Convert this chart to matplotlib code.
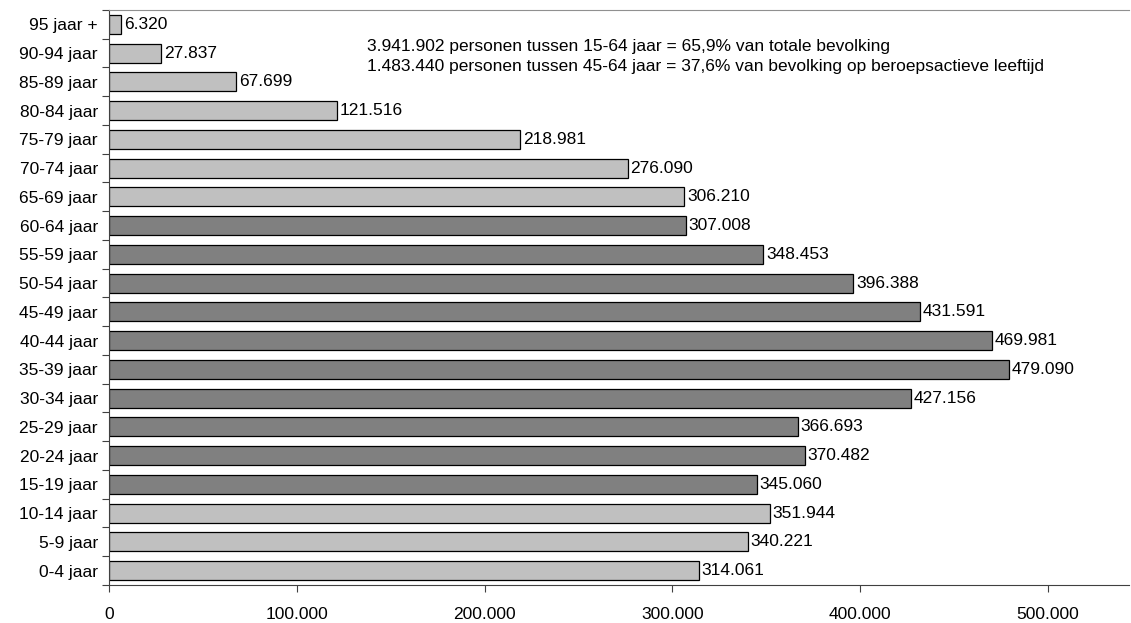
import numpy as np
import matplotlib.pyplot as plt
from matplotlib.ticker import FuncFormatter

plt.rcParams['font.family'] = ['Liberation Sans', 'DejaVu Sans']

# age groups from bottom to top
groups = ['0-4 jaar', '5-9 jaar', '10-14 jaar', '15-19 jaar', '20-24 jaar',
          '25-29 jaar', '30-34 jaar', '35-39 jaar', '40-44 jaar', '45-49 jaar',
          '50-54 jaar', '55-59 jaar', '60-64 jaar', '65-69 jaar', '70-74 jaar',
          '75-79 jaar', '80-84 jaar', '85-89 jaar', '90-94 jaar', '95 jaar +']
people = [314061, 340221, 351944, 345060, 370482, 366693, 427156, 479090,
          469981, 431591, 396388, 348453, 307008, 306210, 276090, 218981,
          121516, 67699, 27837, 6320]
# working age 15-64 gets the dark colour
working = [False, False, False] + [True] * 10 + [False] * 7

notes = ['3.941.902 personen tussen 15-64 jaar = 65,9% van totale bevolking',
         '1.483.440 personen tussen 45-64 jaar = 37,6% van bevolking op beroepsactieve leeftijd']

FS = 12.5


def dutch(v):
    return '{:,.0f}'.format(v).replace(',', '.')


fig = plt.figure(figsize=(11.31, 6.23), dpi=100)
ax = fig.add_axes([0.0964, 0.061, 0.9016, 0.923])

ypos = np.arange(len(groups))
colors = ['#808080' if w else '#c0c0c0' for w in working]
ax.barh(ypos, people, height=0.66, color=colors, edgecolor='black', linewidth=0.9)

for y, v in zip(ypos, people):
    ax.text(v + 1500, y, dutch(v), va='center', ha='left', fontsize=FS)

ax.set_xlim(0, 543000)
ax.set_ylim(-0.5, len(groups) - 0.5)

ax.set_xticks(np.arange(0, 500001, 100000))
ax.xaxis.set_major_formatter(FuncFormatter(lambda v, p: dutch(v)))
ax.tick_params(axis='x', direction='out', length=5, labelsize=FS, pad=11, color='#404040')

# Excel style: ticks between categories, labels in the middle
ax.set_yticks(np.arange(-0.5, len(groups), 1))
ax.set_yticklabels([])
ax.set_yticks(ypos, minor=True)
ax.set_yticklabels(groups, minor=True, fontsize=FS)
ax.tick_params(axis='y', which='major', direction='out', length=5, color='#404040')
ax.tick_params(axis='y', which='minor', length=0, pad=8)

ax.spines['right'].set_visible(False)
ax.spines['top'].set_color('#909090')
ax.spines['left'].set_color('#404040')
ax.spines['bottom'].set_color('#404040')

ax.text(0.253, 0.936, notes[0], transform=ax.transAxes, va='center', fontsize=FS)
ax.text(0.253, 0.901, notes[1], transform=ax.transAxes, va='center', fontsize=FS)

fig.savefig('out.png', dpi=100)
